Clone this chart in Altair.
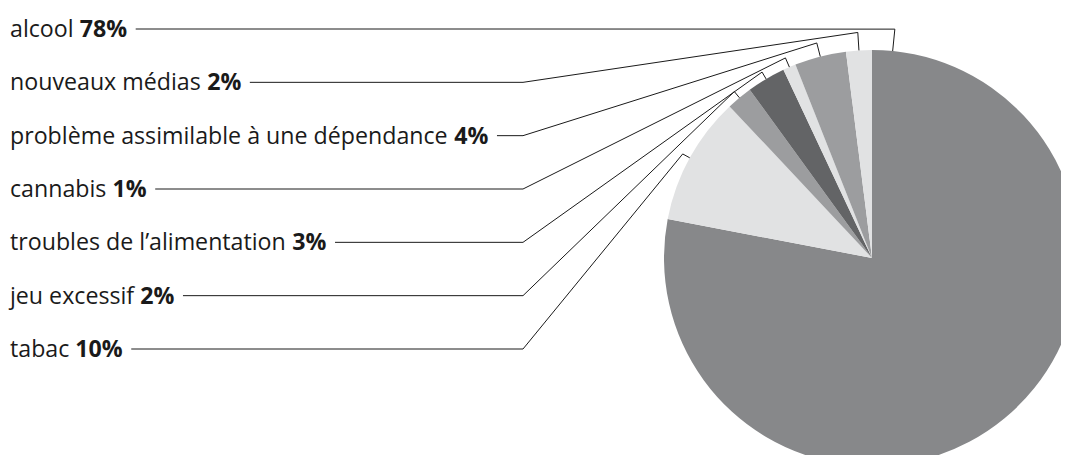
import math
import altair as alt
import pandas as pd

# ---- data (pie order, clockwise from 12 o'clock) ----
categories = [
    "alcool",
    "tabac",
    "jeu excessif",
    "troubles de l’alimentation",
    "cannabis",
    "problème assimilable à une dépendance",
    "nouveaux médias",
]
values = [78, 10, 2, 3, 1, 4, 2]

# order of the labels, top to bottom
label_rows = [
    "alcool",
    "nouveaux médias",
    "problème assimilable à une dépendance",
    "cannabis",
    "troubles de l’alimentation",
    "jeu excessif",
    "tabac",
]

# ---- style ----
slice_colors = ["#87888a", "#e1e2e3", "#9c9d9f", "#636466", "#e1e2e3", "#9c9d9f", "#e1e2e3"]
FONT = "Open Sans"
FS = 23.2
TEXT_COLOR = "#1a1a1a"
LINE_COLOR = "#1a1a1a"

# ---- layout ----
W, H = 1053, 447
CX, CY, R = 864, 250, 208
LABEL_X = 2
ROW_TOP, ROW_BOTTOM = 21, 341
ELBOW_X = 515
GAP = 9

# approximate advance widths (units per 2048 em) to place the bold part after the name
REG = {" ": 532, "a": 1139, "b": 1255, "c": 975, "d": 1255, "e": 1149, "f": 694, "i": 518,
       "j": 518, "l": 518, "m": 1905, "n": 1257, "o": 1237, "p": 1255, "r": 836, "s": 977,
       "t": 723, "u": 1257, "v": 1026, "x": 1073, "é": 1149, "è": 1149, "à": 1139, "’": 369}
BOLD = {"%": 1804, **{d: 1171 for d in "0123456789"}}


def text_w(s, table):
    return sum(table.get(ch, 1100) for ch in s) / 2048 * FS


# slice angles
total = sum(values)
angles = {}
acc = 0.0
for c, v in zip(categories, values):
    a0 = acc / total * 360
    acc += v
    a1 = acc / total * 360
    angles[c] = (a0, a1)

rows = []
lines = []
n = len(label_rows)
for i, c in enumerate(label_rows):
    v = values[categories.index(c)]
    y = ROW_TOP + (ROW_BOTTOM - ROW_TOP) * i / (n - 1)
    name = c + " "
    pct = f"{v}%"
    px = LABEL_X + text_w(name, REG)
    start_x = px + text_w(pct, BOLD) + GAP
    rows.append({"cat": c, "name": c, "pct": pct, "x": LABEL_X, "px": px, "y": y})
    a0, a1 = angles[c]
    mid = (a0 + a1) / 2
    anchor = mid if mid >= 180 else a0 + 5.7
    r_out = R + max(22 - 4 * i, 8)
    t = math.radians(anchor)
    pts = [
        (start_x, y),
        (ELBOW_X, y),
        (CX + r_out * math.sin(t), CY - r_out * math.cos(t)),
        (CX + R * math.sin(t), CY - R * math.cos(t)),
    ]
    for k, (px_, py_) in enumerate(pts):
        lines.append({"cat": c, "k": k, "x": px_, "y": py_})

pie_df = pd.DataFrame({"cat": categories, "value": values, "k": list(range(len(categories)))})
rows_df = pd.DataFrame(rows)
lines_df = pd.DataFrame(lines)

xs = alt.Scale(domain=[0, W], nice=False, zero=False)
ys = alt.Scale(domain=[0, H], nice=False, zero=False, reverse=True)

pie = alt.Chart(pie_df).mark_arc(radius=R, strokeWidth=0).encode(
    theta=alt.Theta("value:Q", stack=True),
    order=alt.Order("k:Q"),
    color=alt.Color("cat:N", scale=alt.Scale(domain=categories, range=slice_colors), legend=None),
    x=alt.value(CX),
    y=alt.value(CY),
)

leaders = alt.Chart(lines_df).mark_line(color=LINE_COLOR, strokeWidth=1).encode(
    x=alt.X("x:Q", scale=xs, axis=None),
    y=alt.Y("y:Q", scale=ys, axis=None),
    detail="cat:N",
    order=alt.Order("k:Q"),
)

names = alt.Chart(rows_df).mark_text(
    align="left", baseline="alphabetic", dy=8, font=FONT, fontSize=FS, color=TEXT_COLOR
).encode(
    x=alt.X("x:Q", scale=xs, axis=None),
    y=alt.Y("y:Q", scale=ys, axis=None),
    text="name:N",
)

pcts = alt.Chart(rows_df).mark_text(
    align="left", baseline="alphabetic", dy=8, font=FONT, fontSize=FS, fontWeight="bold", color=TEXT_COLOR
).encode(
    x=alt.X("px:Q", scale=xs, axis=None),
    y=alt.Y("y:Q", scale=ys, axis=None),
    text="pct:N",
)

chart = alt.layer(pie, leaders, names, pcts).properties(
    width=W, height=H, padding=0, autosize="none"
).configure_view(stroke=None)

chart.save("out.html", embed_options={"renderer": "svg", "actions": False})
